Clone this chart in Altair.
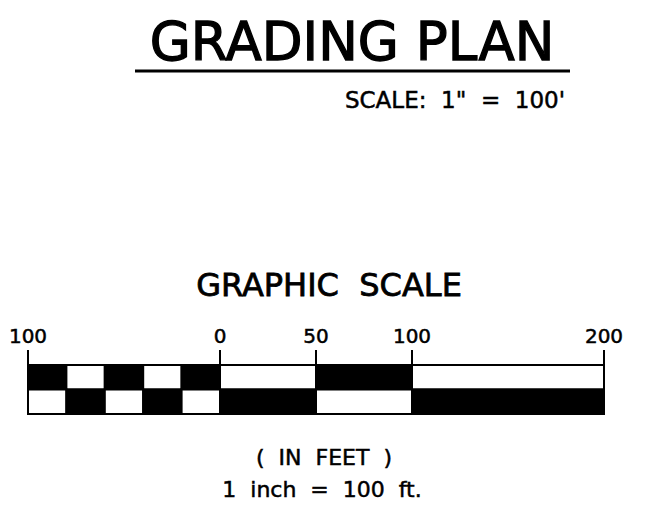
import altair as alt
import pandas as pd

# ---- data ----
seg_start = [-100, -80, -60, -40, -20, 0, 50, 100]
seg_end = [-80, -60, -40, -20, 0, 50, 100, 200]
top_shade = ["dark", "light", "dark", "light", "dark", "light", "dark", "light"]
bottom_shade = ["light", "dark", "light", "dark", "light", "dark", "light", "dark"]
tick_values = [-100, 0, 50, 100, 200]
tick_labels = ["100", "0", "50", "100", "200"]

NB = "\u00a0"
title_text = "GRADING PLAN"
scale_text = f"SCALE:{NB}{NB}1\"{NB}{NB}={NB}{NB}100'"
graphic_text = f"GRAPHIC{NB}{NB}SCALE"
units_text = f"({NB}{NB}IN{NB}{NB}FEET{NB}{NB})"
ratio_text = f"1{NB}{NB}inch{NB}{NB}={NB}{NB}100{NB}{NB}ft."

FONT = "DejaVu Sans"

cells = pd.DataFrame(
    {
        "x0": seg_start + seg_start,
        "x1": seg_end + seg_end,
        "r0": [0] * len(seg_start) + [1] * len(seg_start),
        "r1": [1] * len(seg_start) + [2] * len(seg_start),
        "shade": top_shade + bottom_shade,
    }
)
ticks = pd.DataFrame({"v": tick_values, "label": tick_labels})

xscale = alt.Scale(domain=[-100, 200], range=[20, 596])
yscale = alt.Scale(domain=[0, 2], range=[357, 406])

bar = alt.Chart(cells).mark_rect(stroke="black", strokeWidth=2).encode(
    x=alt.X("x0:Q", scale=xscale, axis=None),
    x2="x1:Q",
    y=alt.Y("r0:Q", scale=yscale, axis=None),
    y2="r1:Q",
    fill=alt.Fill(
        "shade:N",
        scale=alt.Scale(domain=["dark", "light"], range=["black", "white"]),
        legend=None,
    ),
)

tick_rules = alt.Chart(ticks).mark_rule(color="black", strokeWidth=2).encode(
    x=alt.X("v:Q", scale=xscale, axis=None),
    y=alt.value(342),
    y2=alt.value(357),
)

tick_text = alt.Chart(ticks).mark_text(
    font=FONT, fontSize=20, color="black", stroke="black", strokeWidth=0.5,
    align="center", baseline="alphabetic"
).encode(
    x=alt.X("v:Q", scale=xscale, axis=None),
    y=alt.value(335),
    text="label:N",
)


def label(txt, x, y, size, align="center", sw=0.5):
    return alt.Chart(alt.Data(values=[{"t": txt}])).mark_text(
        font=FONT,
        fontSize=size,
        color="black",
        stroke="black",
        strokeWidth=sw,
        align=align,
        baseline="alphabetic",
    ).encode(x=alt.value(x), y=alt.value(y), text="t:N")


underline = alt.Chart(alt.Data(values=[{"a": 1}])).mark_rule(
    color="black", strokeWidth=3
).encode(x=alt.value(127), x2=alt.value(562), y=alt.value(63))

chart = alt.layer(
    bar,
    tick_rules,
    tick_text,
    label(title_text, 344, 52, 53, sw=1.3),
    underline,
    label(scale_text, 557, 100, 23, align="right"),
    label(graphic_text, 321, 288, 32, sw=0.8),
    label(units_text, 316, 457, 22),
    label(ratio_text, 314, 489, 22),
).properties(
    width=642, height=515, padding=0, autosize="none", background="white"
).configure_view(stroke=None)

chart.save("out.html", embed_options={"renderer": "svg", "actions": False})
